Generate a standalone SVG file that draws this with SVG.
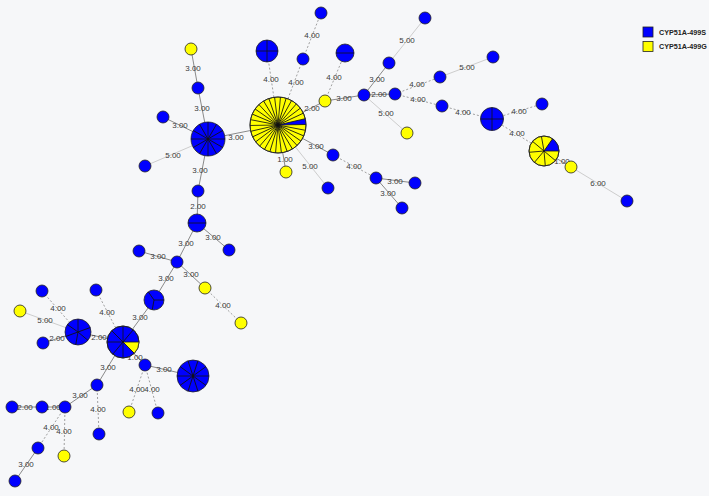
<svg xmlns="http://www.w3.org/2000/svg" width="709" height="496" viewBox="0 0 709 496">
<style>
.e{stroke:#8a8a8a;stroke-width:1;fill:none}
.l{stroke:#cdcdcd}
.d{stroke:#a0a0a0;stroke-dasharray:2 2}
.t{font-family:"Liberation Sans",Arial,sans-serif;font-size:8px;fill:#3a3a3a;text-anchor:middle;dominant-baseline:central}
.b{fill:#0000ff;stroke:#222;stroke-width:0.8}
.y{fill:#ffff00;stroke:#222;stroke-width:0.8}
.s{stroke:#111;stroke-width:0.8}
.lg{font-family:"Liberation Sans",Arial,sans-serif;font-size:7.2px;font-weight:bold;fill:#222;dominant-baseline:central}
</style>
<rect width="709" height="496" fill="#f6f7f9"/>
<g id="connectors">
<line class="e" x1="208" y1="139" x2="278" y2="125"/>
<line class="e" x1="208" y1="139" x2="198" y2="88"/>
<line class="e" x1="198" y1="88" x2="191" y2="49"/>
<line class="e" x1="208" y1="139" x2="163" y2="117"/>
<line class="e l" x1="208" y1="139" x2="145" y2="166"/>
<line class="e" x1="208" y1="139" x2="198" y2="191"/>
<line class="e d" x1="278" y1="125" x2="267" y2="51"/>
<line class="e d" x1="278" y1="125" x2="303" y2="59"/>
<line class="e d" x1="303" y1="59" x2="321" y2="13"/>
<line class="e" x1="278" y1="125" x2="325" y2="101"/>
<line class="e d" x1="325" y1="101" x2="345" y2="53"/>
<line class="e" x1="325" y1="101" x2="364" y2="95"/>
<line class="e" x1="364" y1="95" x2="395" y2="94"/>
<line class="e" x1="364" y1="95" x2="389" y2="63"/>
<line class="e l" x1="389" y1="63" x2="425" y2="18"/>
<line class="e l" x1="364" y1="95" x2="407" y2="133"/>
<line class="e d" x1="395" y1="94" x2="440" y2="77"/>
<line class="e l" x1="440" y1="77" x2="493" y2="57"/>
<line class="e d" x1="395" y1="94" x2="442" y2="106"/>
<line class="e d" x1="442" y1="106" x2="492" y2="119"/>
<line class="e d" x1="492" y1="119" x2="542" y2="104"/>
<line class="e d" x1="492" y1="119" x2="544" y2="151"/>
<line class="e" x1="544" y1="151" x2="571" y2="167"/>
<line class="e l" x1="571" y1="167" x2="627" y2="201"/>
<line class="e" x1="278" y1="125" x2="286" y2="172"/>
<line class="e" x1="278" y1="125" x2="333" y2="155"/>
<line class="e l" x1="278" y1="125" x2="328" y2="188"/>
<line class="e d" x1="333" y1="155" x2="376" y2="178"/>
<line class="e" x1="376" y1="178" x2="415" y2="183"/>
<line class="e" x1="376" y1="178" x2="402" y2="208"/>
<line class="e" x1="198" y1="191" x2="197" y2="223"/>
<line class="e" x1="197" y1="223" x2="229" y2="250"/>
<line class="e" x1="197" y1="223" x2="177" y2="262"/>
<line class="e" x1="177" y1="262" x2="139" y2="251"/>
<line class="e" x1="177" y1="262" x2="205" y2="288"/>
<line class="e d" x1="205" y1="288" x2="241" y2="323"/>
<line class="e" x1="177" y1="262" x2="154" y2="300"/>
<line class="e" x1="154" y1="300" x2="123" y2="342"/>
<line class="e" x1="123" y1="342" x2="78" y2="332"/>
<line class="e d" x1="78" y1="332" x2="42" y2="291"/>
<line class="e l" x1="78" y1="332" x2="20" y2="311"/>
<line class="e" x1="78" y1="332" x2="43" y2="343"/>
<line class="e d" x1="123" y1="342" x2="96" y2="290"/>
<line class="e" x1="123" y1="342" x2="145" y2="365"/>
<line class="e" x1="145" y1="365" x2="193" y2="376"/>
<line class="e d" x1="145" y1="365" x2="129" y2="412"/>
<line class="e d" x1="145" y1="365" x2="158" y2="413"/>
<line class="e" x1="123" y1="342" x2="97" y2="385"/>
<line class="e d" x1="97" y1="385" x2="99" y2="434"/>
<line class="e" x1="97" y1="385" x2="65" y2="407"/>
<line class="e" x1="65" y1="407" x2="42" y2="407"/>
<line class="e" x1="42" y1="407" x2="12" y2="407"/>
<line class="e d" x1="65" y1="407" x2="38" y2="448"/>
<line class="e d" x1="65" y1="407" x2="64" y2="456"/>
<line class="e" x1="38" y1="448" x2="15" y2="481"/>
<text class="t" x="236" y="137">3.00</text>
<text class="t" x="202" y="108">3.00</text>
<text class="t" x="193" y="68">3.00</text>
<text class="t" x="180" y="125">3.00</text>
<text class="t" x="173" y="155">5.00</text>
<text class="t" x="200" y="170">3.00</text>
<text class="t" x="271" y="79">4.00</text>
<text class="t" x="296" y="82">4.00</text>
<text class="t" x="312" y="35">4.00</text>
<text class="t" x="312" y="108">2.00</text>
<text class="t" x="334" y="77">4.00</text>
<text class="t" x="344" y="98">3.00</text>
<text class="t" x="379" y="94">2.00</text>
<text class="t" x="377" y="79">3.00</text>
<text class="t" x="407" y="40">5.00</text>
<text class="t" x="386" y="113">5.00</text>
<text class="t" x="417" y="84">4.00</text>
<text class="t" x="467" y="67">5.00</text>
<text class="t" x="418" y="99">4.00</text>
<text class="t" x="463" y="112">4.00</text>
<text class="t" x="519" y="111">4.00</text>
<text class="t" x="517" y="133">4.00</text>
<text class="t" x="562" y="161">1.00</text>
<text class="t" x="598" y="183">6.00</text>
<text class="t" x="285" y="159">1.00</text>
<text class="t" x="316" y="146">3.00</text>
<text class="t" x="310" y="166">5.00</text>
<text class="t" x="354" y="166">4.00</text>
<text class="t" x="395" y="181">3.00</text>
<text class="t" x="388" y="193">3.00</text>
<text class="t" x="198" y="206">2.00</text>
<text class="t" x="213" y="237">3.00</text>
<text class="t" x="186" y="243">3.00</text>
<text class="t" x="158" y="256">3.00</text>
<text class="t" x="191" y="274">3.00</text>
<text class="t" x="223" y="305">4.00</text>
<text class="t" x="166" y="278">3.00</text>
<text class="t" x="140" y="317">3.00</text>
<text class="t" x="99" y="337">2.00</text>
<text class="t" x="58" y="308">4.00</text>
<text class="t" x="45" y="320">5.00</text>
<text class="t" x="57" y="338">2.00</text>
<text class="t" x="107" y="312">4.00</text>
<text class="t" x="135" y="357">1.00</text>
<text class="t" x="164" y="369">3.00</text>
<text class="t" x="137" y="389">4.00</text>
<text class="t" x="152" y="389">4.00</text>
<text class="t" x="108" y="367">3.00</text>
<text class="t" x="98" y="409">4.00</text>
<text class="t" x="80" y="395">3.00</text>
<text class="t" x="53" y="407">1.00</text>
<text class="t" x="25" y="407">2.00</text>
<text class="t" x="51" y="427">4.00</text>
<text class="t" x="64" y="431">4.00</text>
<text class="t" x="26" y="464">3.00</text>
</g>
<g id="Y0" transform="translate(278,125)">
<circle class="y" r="28"/>
<path d="M0,0 L27.28,-6.3 A28,28 0 0 1 28,-0.49 Z" fill="#0000ff"/>
<g class="s">
<line x2="28" transform="rotate(-1)"/><line x2="28" transform="rotate(11)"/><line x2="28" transform="rotate(23)"/><line x2="28" transform="rotate(35)"/><line x2="28" transform="rotate(47)"/><line x2="28" transform="rotate(59)"/><line x2="28" transform="rotate(71)"/><line x2="28" transform="rotate(83)"/><line x2="28" transform="rotate(95)"/><line x2="28" transform="rotate(107)"/><line x2="28" transform="rotate(119)"/><line x2="28" transform="rotate(131)"/><line x2="28" transform="rotate(143)"/><line x2="28" transform="rotate(155)"/><line x2="28" transform="rotate(167)"/><line x2="28" transform="rotate(179)"/><line x2="28" transform="rotate(191)"/><line x2="28" transform="rotate(203)"/><line x2="28" transform="rotate(215)"/><line x2="28" transform="rotate(227)"/><line x2="28" transform="rotate(239)"/><line x2="28" transform="rotate(251)"/><line x2="28" transform="rotate(263)"/><line x2="28" transform="rotate(275)"/><line x2="28" transform="rotate(287)"/><line x2="28" transform="rotate(299)"/><line x2="28" transform="rotate(311)"/><line x2="28" transform="rotate(323)"/><line x2="28" transform="rotate(335)"/><line x2="28" transform="rotate(347)"/>
</g>
<circle r="28" fill="none" stroke="#222" stroke-width="0.8"/>
</g>
<g id="B1" transform="translate(208,139)">
<circle class="b" r="17"/>
<g class="s"><line x2="17"/><line x2="17" transform="rotate(30)"/><line x2="17" transform="rotate(60)"/><line x2="17" transform="rotate(90)"/><line x2="17" transform="rotate(120)"/><line x2="17" transform="rotate(150)"/><line x2="17" transform="rotate(180)"/><line x2="17" transform="rotate(210)"/><line x2="17" transform="rotate(240)"/><line x2="17" transform="rotate(270)"/><line x2="17" transform="rotate(300)"/><line x2="17" transform="rotate(330)"/></g>
</g>
<g id="Q1" transform="translate(267,51)">
<circle class="b" r="11"/>
<path class="s" d="M-11,0H11M0,-11V11"/>
</g>
<g id="Q2" transform="translate(492,119)">
<circle class="b" r="11.5"/>
<path class="s" d="M-11.5,0H11.5M0,-11.5V11.5"/>
</g>
<g id="H1" transform="translate(345,53)">
<circle class="b" r="9"/>
<path class="s" d="M-9,0H9"/>
</g>
<g id="H2" transform="translate(197,223)">
<circle class="b" r="9"/>
<path class="s" d="M-9,0H9"/>
</g>
<g id="T1" transform="translate(154,300)">
<circle class="b" r="10"/>
<g class="s"><line x2="10"/><line x2="10" transform="rotate(100)"/><line x2="10" transform="rotate(235)"/></g>
</g>
<g id="B3" transform="translate(78,332)">
<circle class="b" r="13"/>
<g class="s"><line x2="13" transform="rotate(-90)"/><line x2="13" transform="rotate(-20)"/><line x2="13" transform="rotate(40)"/><line x2="13" transform="rotate(100)"/><line x2="13" transform="rotate(160)"/><line x2="13" transform="rotate(215)"/></g>
</g>
<g id="B4" transform="translate(123,342)">
<circle class="b" r="16"/>
<path d="M0,0 L16,0 A16,16 0 0 1 11.31,11.31 Z" fill="#ffff00"/>
<g class="s"><line x2="16"/><line x2="16" transform="rotate(45)"/><line x2="16" transform="rotate(90)"/><line x2="16" transform="rotate(130)"/><line x2="16" transform="rotate(180)"/><line x2="16" transform="rotate(225)"/><line x2="16" transform="rotate(270)"/><line x2="16" transform="rotate(310)"/></g>
<circle r="16" fill="none" stroke="#222" stroke-width="0.8"/>
</g>
<g id="B5" transform="translate(193,376)">
<circle class="b" r="16"/>
<g class="s"><line x2="16"/><line x2="16" transform="rotate(36)"/><line x2="16" transform="rotate(72)"/><line x2="16" transform="rotate(108)"/><line x2="16" transform="rotate(144)"/><line x2="16" transform="rotate(180)"/><line x2="16" transform="rotate(216)"/><line x2="16" transform="rotate(252)"/><line x2="16" transform="rotate(288)"/><line x2="16" transform="rotate(324)"/></g>
</g>
<g id="Y2" transform="translate(544,151)">
<circle class="y" r="15"/>
<path d="M0,0 L8.6,-12.29 A15,15 0 0 1 15,0 Z" fill="#0000ff"/>
<g class="s"><line x2="15" transform="rotate(-55)"/><line x2="15"/><line x2="15" transform="rotate(40)"/><line x2="15" transform="rotate(85)"/><line x2="15" transform="rotate(130)"/><line x2="15" transform="rotate(175)"/><line x2="15" transform="rotate(220)"/><line x2="15" transform="rotate(260)"/></g>
<circle r="15" fill="none" stroke="#222" stroke-width="0.8"/>
</g>
<g id="nodes-small">
<g id="n1"><circle class="b" cx="198" cy="88" r="6"/></g>
<g id="n2"><circle class="y" cx="191" cy="49" r="6"/></g>
<g id="n3"><circle class="b" cx="163" cy="117" r="6"/></g>
<g id="n4"><circle class="b" cx="145" cy="166" r="6"/></g>
<g id="n5"><circle class="b" cx="198" cy="191" r="6"/></g>
<g id="n6"><circle class="b" cx="303" cy="59" r="6"/></g>
<g id="n7"><circle class="b" cx="321" cy="13" r="6"/></g>
<g id="n8"><circle class="y" cx="325" cy="101" r="6"/></g>
<g id="n9"><circle class="b" cx="364" cy="95" r="6"/></g>
<g id="n10"><circle class="b" cx="395" cy="94" r="6"/></g>
<g id="n11"><circle class="b" cx="389" cy="63" r="6"/></g>
<g id="n12"><circle class="b" cx="425" cy="18" r="6"/></g>
<g id="n13"><circle class="y" cx="407" cy="133" r="6"/></g>
<g id="n14"><circle class="b" cx="440" cy="77" r="6"/></g>
<g id="n15"><circle class="b" cx="493" cy="57" r="6"/></g>
<g id="n16"><circle class="b" cx="442" cy="106" r="6"/></g>
<g id="n17"><circle class="b" cx="542" cy="104" r="6"/></g>
<g id="n18"><circle class="y" cx="571" cy="167" r="6"/></g>
<g id="n19"><circle class="b" cx="627" cy="201" r="6"/></g>
<g id="n20"><circle class="y" cx="286" cy="172" r="6"/></g>
<g id="n21"><circle class="b" cx="333" cy="155" r="6"/></g>
<g id="n22"><circle class="b" cx="328" cy="188" r="6"/></g>
<g id="n23"><circle class="b" cx="376" cy="178" r="6"/></g>
<g id="n24"><circle class="b" cx="415" cy="183" r="6"/></g>
<g id="n25"><circle class="b" cx="402" cy="208" r="6"/></g>
<g id="n26"><circle class="b" cx="229" cy="250" r="6"/></g>
<g id="n27"><circle class="b" cx="177" cy="262" r="6"/></g>
<g id="n28"><circle class="b" cx="139" cy="251" r="6"/></g>
<g id="n29"><circle class="y" cx="205" cy="288" r="6"/></g>
<g id="n30"><circle class="y" cx="241" cy="323" r="6"/></g>
<g id="n31"><circle class="b" cx="42" cy="291" r="6"/></g>
<g id="n32"><circle class="y" cx="20" cy="311" r="6"/></g>
<g id="n33"><circle class="b" cx="43" cy="343" r="6"/></g>
<g id="n34"><circle class="b" cx="96" cy="290" r="6"/></g>
<g id="n35"><circle class="b" cx="145" cy="365" r="6"/></g>
<g id="n36"><circle class="y" cx="129" cy="412" r="6"/></g>
<g id="n37"><circle class="b" cx="158" cy="413" r="6"/></g>
<g id="n38"><circle class="b" cx="97" cy="385" r="6"/></g>
<g id="n39"><circle class="b" cx="99" cy="434" r="6"/></g>
<g id="n40"><circle class="b" cx="65" cy="407" r="6"/></g>
<g id="n41"><circle class="b" cx="42" cy="407" r="6"/></g>
<g id="n42"><circle class="b" cx="12" cy="407" r="6"/></g>
<g id="n43"><circle class="b" cx="38" cy="448" r="6"/></g>
<g id="n44"><circle class="y" cx="64" cy="456" r="6"/></g>
<g id="n45"><circle class="b" cx="15" cy="481" r="6"/></g>
</g>
<g id="legend">
<rect class="b" x="643" y="27" width="10" height="10"/>
<text class="lg" x="659" y="32">CYP51A-499S</text>
<rect class="y" x="643" y="41.5" width="10" height="10"/>
<text class="lg" x="659" y="46.5">CYP51A-499G</text>
</g>
</svg>
